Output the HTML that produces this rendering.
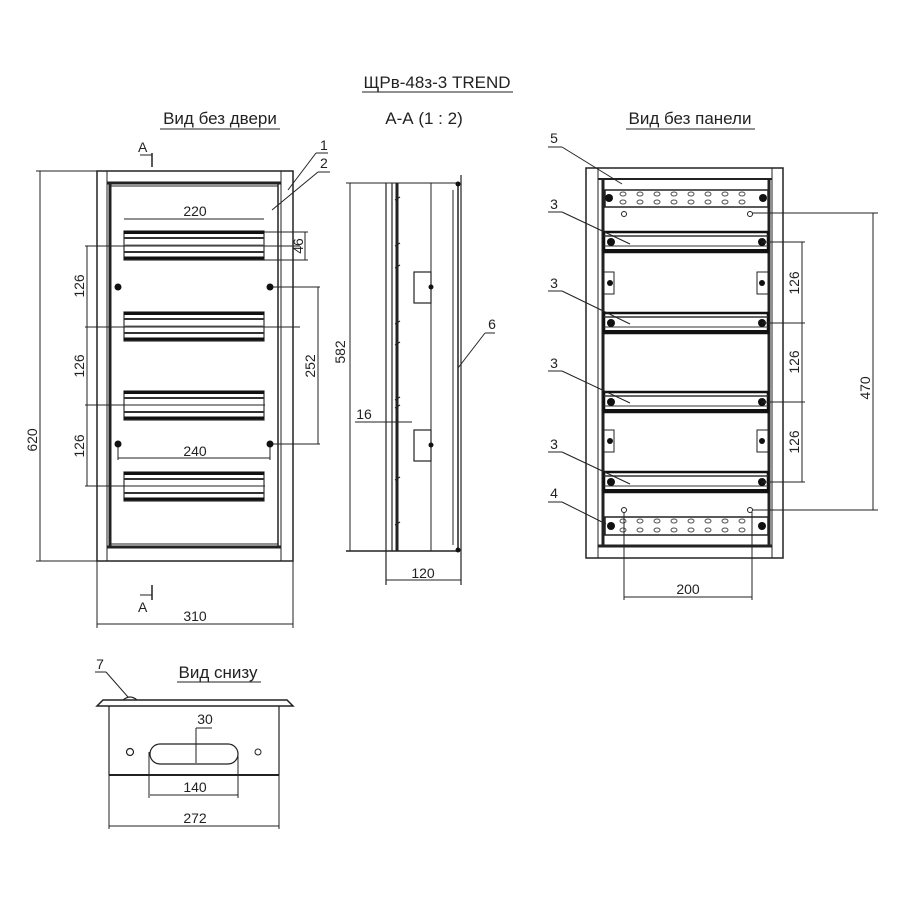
<!DOCTYPE html>
<html><head><meta charset="utf-8"><style>
html,body{margin:0;padding:0;background:#fff;}
svg{display:block;}
text{font-family:"Liberation Sans",sans-serif;fill:#222;}
</style></head><body>
<svg width="900" height="900" viewBox="0 0 900 900" xmlns="http://www.w3.org/2000/svg">
<defs>
<g id="rail">
<rect x="124" y="0" width="140" height="29" fill="#fff" stroke="#333" stroke-width="1.2"/>
<line x1="124" y1="1.5" x2="264" y2="1.5" stroke="#111" stroke-width="3"/>
<line x1="124" y1="7" x2="264" y2="7" stroke="#333" stroke-width="2"/>
<line x1="124" y1="14" x2="264" y2="14" stroke="#666" stroke-width="1"/>
<line x1="124" y1="21" x2="264" y2="21" stroke="#333" stroke-width="2"/>
<line x1="124" y1="27" x2="264" y2="27" stroke="#111" stroke-width="3"/>
</g>
<g id="prail">
<rect x="604" y="0" width="164" height="20" fill="#fff" stroke="#111" stroke-width="2.5"/>
<line x1="604" y1="4" x2="768" y2="4" stroke="#333" stroke-width="1.5"/>
<line x1="604" y1="14" x2="768" y2="14" stroke="#333" stroke-width="1"/>
<line x1="604" y1="18" x2="768" y2="18" stroke="#111" stroke-width="2"/>
<circle cx="611" cy="10" r="4" fill="#111"/>
<circle cx="762" cy="10" r="4" fill="#111"/>
</g>
<g id="holes" fill="#fff" stroke="#555" stroke-width="1">
<ellipse cx="623" cy="0" rx="3" ry="2"/><ellipse cx="640" cy="0" rx="3" ry="2"/><ellipse cx="657" cy="0" rx="3" ry="2"/><ellipse cx="674" cy="0" rx="3" ry="2"/><ellipse cx="691" cy="0" rx="3" ry="2"/><ellipse cx="708" cy="0" rx="3" ry="2"/><ellipse cx="725" cy="0" rx="3" ry="2"/><ellipse cx="742" cy="0" rx="3" ry="2"/>
</g>
</defs>

<!-- Titles -->
<text x="437" y="88" font-size="17" text-anchor="middle">ЩРв-48з-3  TREND</text>
<line x1="362" y1="92" x2="513" y2="92" stroke="#222" stroke-width="1"/>
<text x="424" y="124" font-size="17" text-anchor="middle">А-А (1 : 2)</text>
<text x="220" y="124" font-size="17" text-anchor="middle">Вид без двери</text>
<line x1="160" y1="129" x2="280" y2="129" stroke="#222" stroke-width="1"/>
<text x="690" y="124" font-size="17" text-anchor="middle">Вид без панели</text>
<line x1="626" y1="129" x2="755" y2="129" stroke="#222" stroke-width="1"/>
<text x="218" y="678" font-size="17" text-anchor="middle">Вид снизу</text>
<line x1="177" y1="682" x2="261" y2="682" stroke="#222" stroke-width="1"/>

<g stroke="#222" fill="none">
<!-- FRONT VIEW -->
<rect x="97" y="171" width="196" height="390" stroke-width="1.5"/>
<line x1="107" y1="171" x2="107" y2="561" stroke-width="1"/>
<line x1="110" y1="184" x2="110" y2="548" stroke-width="3"/>
<line x1="281" y1="171" x2="281" y2="561" stroke-width="1"/>
<line x1="278" y1="184" x2="278" y2="548" stroke-width="1.5"/>
<line x1="107" y1="183" x2="281" y2="183" stroke-width="3"/>
<line x1="110" y1="186" x2="278" y2="186" stroke-width="1"/>
<line x1="107" y1="547" x2="281" y2="547" stroke-width="3"/>
<line x1="110" y1="544" x2="278" y2="544" stroke-width="1"/>
</g>
<use href="#rail" y="231"/>
<use href="#rail" y="312"/>
<use href="#rail" y="391"/>
<use href="#rail" y="472"/>
<g stroke="#222" fill="none" stroke-width="1">
<line x1="87" y1="246" x2="87" y2="486"/>
<line x1="85" y1="246" x2="300" y2="246"/>
<line x1="85" y1="327" x2="300" y2="327"/>
<line x1="85" y1="405" x2="265" y2="405"/>
<line x1="85" y1="486" x2="265" y2="486"/>
<line x1="40" y1="171" x2="40" y2="561"/>
<line x1="36" y1="171" x2="97" y2="171"/>
<line x1="36" y1="561" x2="97" y2="561"/>
<line x1="97" y1="561" x2="97" y2="628"/>
<line x1="293" y1="561" x2="293" y2="628"/>
<line x1="97" y1="624" x2="293" y2="624"/>
<line x1="124" y1="219" x2="264" y2="219"/>
<line x1="264" y1="232" x2="308" y2="232"/>
<line x1="264" y1="260" x2="308" y2="260"/>
<line x1="305" y1="232" x2="305" y2="260"/>
<line x1="270" y1="287" x2="320" y2="287"/>
<line x1="270" y1="444" x2="320" y2="444"/>
<line x1="318" y1="287" x2="318" y2="444"/>
<line x1="118" y1="444" x2="118" y2="460"/>
<line x1="270" y1="444" x2="270" y2="460"/>
<line x1="118" y1="458" x2="270" y2="458"/>
<line x1="152" y1="153" x2="152" y2="167" stroke-width="1.5"/>
<line x1="140" y1="155" x2="152" y2="155"/>
<line x1="152" y1="585" x2="152" y2="600" stroke-width="1.5"/>
<line x1="140" y1="595" x2="152" y2="595"/>
<line x1="288" y1="190" x2="316" y2="153"/>
<line x1="316" y1="153" x2="328" y2="153"/>
<line x1="272" y1="210" x2="318" y2="172"/>
<line x1="318" y1="172" x2="330" y2="172"/>
</g>
<g fill="#111">
<circle cx="118" cy="287" r="3.5"/><circle cx="270" cy="287" r="3.5"/>
<circle cx="118" cy="444" r="3.5"/><circle cx="270" cy="444" r="3.5"/>
</g>
<g font-size="14">
<text x="195" y="216" text-anchor="middle">220</text>
<text x="195" y="456" text-anchor="middle">240</text>
<text x="195" y="621" text-anchor="middle">310</text>
<text x="320" y="150">1</text>
<text x="320" y="168">2</text>
<text x="138" y="152">А</text>
<text x="138" y="612">А</text>
<text transform="translate(84,286) rotate(-90)" text-anchor="middle">126</text>
<text transform="translate(84,366) rotate(-90)" text-anchor="middle">126</text>
<text transform="translate(84,446) rotate(-90)" text-anchor="middle">126</text>
<text transform="translate(37,440) rotate(-90)" text-anchor="middle">620</text>
<text transform="translate(303,246) rotate(-90)" text-anchor="middle">46</text>
<text transform="translate(315,366) rotate(-90)" text-anchor="middle">252</text>
</g>

<!-- SIDE VIEW -->
<g stroke="#222" fill="none">
<line x1="346" y1="183" x2="460" y2="183" stroke-width="1"/>
<line x1="346" y1="551" x2="460" y2="551" stroke-width="1.5"/>
<line x1="386" y1="183" x2="386" y2="585" stroke-width="1.2"/>
<line x1="392" y1="183" x2="392" y2="551" stroke-width="1.2"/>
<line x1="397" y1="183" x2="397" y2="551" stroke-width="3"/>
<line x1="431" y1="183" x2="431" y2="551" stroke-width="1"/>
<line x1="453" y1="190" x2="453" y2="545" stroke-width="1"/>
<line x1="458" y1="183" x2="458" y2="551" stroke-width="1.5"/>
<line x1="461" y1="175" x2="461" y2="585" stroke-width="1.2"/>
<rect x="414" y="272" width="17" height="31" stroke-width="1.2"/>
<rect x="414" y="430" width="17" height="31" stroke-width="1.2"/>
<line x1="350" y1="183" x2="350" y2="551" stroke-width="1"/>
<line x1="355" y1="422" x2="412" y2="422" stroke-width="1"/>
<line x1="386" y1="580" x2="461" y2="580" stroke-width="1"/>
<line x1="458" y1="368" x2="485" y2="333" stroke-width="1"/>
<line x1="485" y1="333" x2="495" y2="333" stroke-width="1"/>
<path d="M395 200 l5 -3 M395 246 l5 -3 M395 268 l5 -3 M395 324 l5 -3 M395 345 l5 -3 M395 400 l5 -3 M395 408 l5 -3 M395 480 l5 -3 M395 525 l5 -3" stroke-width="1.2"/>
</g>
<g fill="#111"><circle cx="431" cy="287" r="2.5"/><circle cx="431" cy="445" r="2.5"/><circle cx="458" cy="184" r="2.5"/><circle cx="458" cy="550" r="2.5"/></g>
<g font-size="14">
<text transform="translate(345,352) rotate(-90)" text-anchor="middle">582</text>
<text x="364" y="419" text-anchor="middle">16</text>
<text x="492" y="329" text-anchor="middle">6</text>
<text x="423" y="578" text-anchor="middle">120</text>
</g>

<!-- PANEL VIEW -->
<g stroke="#222" fill="none">
<rect x="586" y="168" width="197" height="390" stroke-width="1.5"/>
<line x1="598" y1="168" x2="598" y2="558" stroke-width="1"/>
<line x1="603" y1="180" x2="603" y2="545" stroke-width="3"/>
<line x1="772" y1="168" x2="772" y2="558" stroke-width="1"/>
<line x1="769" y1="180" x2="769" y2="545" stroke-width="3"/>
<line x1="598" y1="179" x2="772" y2="179" stroke-width="2"/>
<line x1="598" y1="546" x2="772" y2="546" stroke-width="3"/>
<rect x="605" y="190" width="163" height="17" stroke-width="1.5"/>
<rect x="605" y="517" width="163" height="18" stroke-width="1.5"/>
<rect x="604" y="272" width="10" height="22"/><rect x="757" y="272" width="11" height="22"/>
<rect x="604" y="430" width="10" height="22"/><rect x="757" y="430" width="11" height="22"/>
<circle cx="624" cy="214" r="2.5" stroke-width="1"/><circle cx="750" cy="214" r="2.5" stroke-width="1"/>
<circle cx="624" cy="510" r="2.5" stroke-width="1"/><circle cx="750" cy="510" r="2.5" stroke-width="1"/>
</g>
<use href="#holes" y="194"/><use href="#holes" y="202"/>
<use href="#holes" y="521"/><use href="#holes" y="530"/>
<use href="#prail" y="232"/>
<use href="#prail" y="313"/>
<use href="#prail" y="392"/>
<use href="#prail" y="472"/>
<g fill="#111">
<circle cx="609" cy="198" r="4"/><circle cx="763" cy="198" r="4"/>
<circle cx="611" cy="526" r="4"/><circle cx="762" cy="526" r="4"/>
<circle cx="610" cy="283" r="3"/><circle cx="762" cy="283" r="3"/>
<circle cx="610" cy="441" r="3"/><circle cx="762" cy="441" r="3"/>
</g>
<g stroke="#222" fill="none" stroke-width="1">
<line x1="762" y1="242" x2="805" y2="242"/>
<line x1="762" y1="323" x2="805" y2="323"/>
<line x1="762" y1="402" x2="805" y2="402"/>
<line x1="762" y1="482" x2="805" y2="482"/>
<line x1="802" y1="242" x2="802" y2="482"/>
<line x1="752" y1="213" x2="878" y2="213"/>
<line x1="752" y1="510" x2="878" y2="510"/>
<line x1="873" y1="213" x2="873" y2="510"/>
<line x1="624" y1="512" x2="624" y2="600"/>
<line x1="752" y1="512" x2="752" y2="600"/>
<line x1="624" y1="597" x2="752" y2="597"/>
<line x1="548" y1="147" x2="562" y2="147"/><line x1="562" y1="147" x2="622" y2="184"/>
<line x1="548" y1="212" x2="562" y2="212"/><line x1="562" y1="212" x2="630" y2="244"/>
<line x1="548" y1="291" x2="562" y2="291"/><line x1="562" y1="291" x2="630" y2="324"/>
<line x1="548" y1="371" x2="562" y2="371"/><line x1="562" y1="371" x2="630" y2="403"/>
<line x1="548" y1="452" x2="562" y2="452"/><line x1="562" y1="452" x2="630" y2="484"/>
<line x1="548" y1="502" x2="562" y2="502"/><line x1="562" y1="502" x2="606" y2="524"/>
</g>
<g font-size="14">
<text x="554" y="143" text-anchor="middle">5</text>
<text x="554" y="209" text-anchor="middle">3</text>
<text x="554" y="288" text-anchor="middle">3</text>
<text x="554" y="368" text-anchor="middle">3</text>
<text x="554" y="449" text-anchor="middle">3</text>
<text x="554" y="498" text-anchor="middle">4</text>
<text transform="translate(799,283) rotate(-90)" text-anchor="middle">126</text>
<text transform="translate(799,362) rotate(-90)" text-anchor="middle">126</text>
<text transform="translate(799,442) rotate(-90)" text-anchor="middle">126</text>
<text transform="translate(870,388) rotate(-90)" text-anchor="middle">470</text>
<text x="688" y="594" text-anchor="middle">200</text>
</g>

<!-- BOTTOM VIEW -->
<g stroke="#222" fill="none">
<path d="M97 706 L103 700 L287 700 L293 706 Z" stroke-width="1.5"/>
<line x1="109" y1="706" x2="109" y2="775" stroke-width="1.2"/>
<line x1="279" y1="706" x2="279" y2="775" stroke-width="1.2"/>
<line x1="109" y1="775" x2="279" y2="775" stroke-width="2"/>
<rect x="150" y="744" width="88" height="20" rx="10" stroke-width="1.2"/>
<circle cx="130" cy="752" r="3.5" stroke-width="1.2"/>
<circle cx="258" cy="752" r="3" stroke-width="1"/>
<line x1="196" y1="728" x2="196" y2="763" stroke-width="1"/>
<line x1="196" y1="728" x2="212" y2="728" stroke-width="1"/>
<line x1="149" y1="752" x2="149" y2="798" stroke-width="1"/>
<line x1="238" y1="752" x2="238" y2="798" stroke-width="1"/>
<line x1="150" y1="795" x2="238" y2="795" stroke-width="1"/>
<line x1="109" y1="775" x2="109" y2="829" stroke-width="1"/>
<line x1="279" y1="775" x2="279" y2="829" stroke-width="1"/>
<line x1="109" y1="826" x2="279" y2="826" stroke-width="1"/>
<line x1="95" y1="672" x2="106" y2="672" stroke-width="1"/>
<line x1="106" y1="672" x2="128" y2="697" stroke-width="1"/>
<path d="M123 700 q7 -6 14 0" stroke-width="1.2"/>
</g>
<g font-size="14">
<text x="100" y="669" text-anchor="middle">7</text>
<text x="205" y="724" text-anchor="middle">30</text>
<text x="195" y="792" text-anchor="middle">140</text>
<text x="195" y="823" text-anchor="middle">272</text>
</g>
</svg>
</body></html>
